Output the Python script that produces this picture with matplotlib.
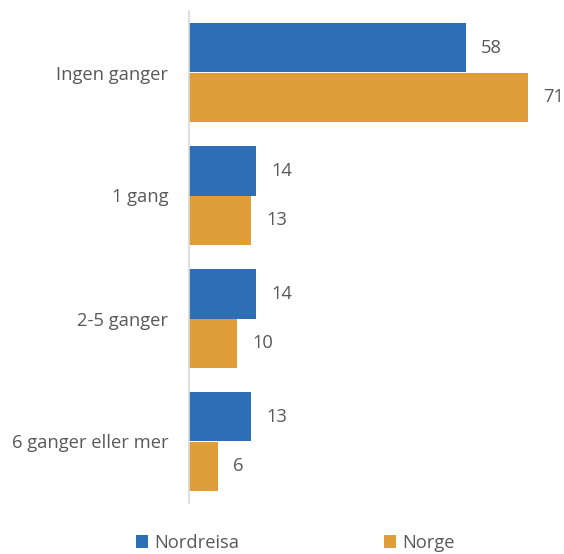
import matplotlib.pyplot as plt
import numpy as np

categories = ["Ingen ganger", "1 gang", "2-5 ganger", "6 ganger eller mer"]
nordreisa = [58, 14, 14, 13]
norge = [71, 13, 10, 6]
series_names = ["Nordreisa", "Norge"]

blue = "#2E6EB6"
orange = "#DF9E37"
text_col = "#595959"

plt.rcParams["font.family"] = ["Open Sans", "DejaVu Sans"]

W, H = 564, 554
fig = plt.figure(figsize=(W / 100, H / 100), dpi=100)
ax = fig.add_axes([189 / W, 1 - 503 / H, (W - 189) / W, 492 / H])

y = np.arange(len(categories))
h = 0.4
b1 = ax.barh(y - h / 2, nordreisa, height=h, color=blue, label=series_names[0])
b2 = ax.barh(y + h / 2, norge, height=h, color=orange, label=series_names[1])

for bars in (b1, b2):
    for rect in bars:
        v = rect.get_width()
        ax.annotate(f"{v:g}", (v, rect.get_y() + rect.get_height() / 2),
                    xytext=(11, 0), textcoords="offset points",
                    ha="left", va="center", fontsize=13.2, color=text_col)

ax.set_xlim(0, (W - 189) / 4.77)
ax.set_ylim(-0.5, len(categories) - 0.5)
ax.invert_yaxis()
ax.set_yticks(y)
ax.set_yticklabels(categories, fontsize=13.2, color=text_col)
ax.tick_params(axis="y", length=0, pad=15)
ax.set_xticks([])
for side in ("top", "right", "bottom"):
    ax.spines[side].set_visible(False)
ax.spines["left"].set_color("#D9D9D9")
ax.spines["left"].set_linewidth(1.2)

fig.legend(loc="center", bbox_to_anchor=(295 / W, 11 / H), ncol=2, frameon=False,
           handlelength=0.66, handleheight=0.66, handletextpad=0.33,
           columnspacing=7.9, fontsize=13.2, labelcolor=text_col)

fig.savefig("out.png", dpi=100)
